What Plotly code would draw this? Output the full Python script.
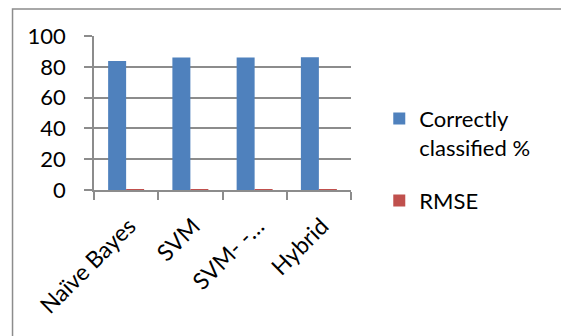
import plotly.graph_objects as go

# Classifier comparison data
classifiers = ["Naïve Bayes", "SVM", "SVM- -…", "Hybrid"]
correctly_classified = [83.8, 86.1, 86.1, 86.2]
rmse = [0.34, 0.37, 0.37, 0.36]
y_ticks = [0, 20, 40, 60, 80, 100]

FONT = "Lato, Calibri, Carlito, sans-serif"
GRID = "#8c8c8c"

fig = go.Figure()
fig.add_trace(go.Bar(
    x=classifiers, y=correctly_classified,
    name="Correctly<br>classified %",
    marker=dict(color="#4F81BD", line=dict(width=0)),
    legendgroup="a",
))
fig.add_trace(go.Bar(
    x=classifiers, y=rmse,
    name="RMSE",
    marker=dict(color="#C0504D", line=dict(width=0)),
    legendgroup="b",
))

fig.update_layout(
    width=561, height=336,
    margin=dict(l=94, r=210, t=36, b=146, autoexpand=False),
    paper_bgcolor="white", plot_bgcolor="white",
    barmode="group", bargap=0.44, bargroupgap=0,
    font=dict(family=FONT, size=22, color="black"),
    showlegend=True,
    legend=dict(
        x=1.11, xanchor="left", y=0.6, yanchor="top",
        traceorder="grouped", tracegroupgap=22,
        font=dict(family=FONT, size=22, color="black"),
        valign="top", itemwidth=30,
        bgcolor="rgba(0,0,0,0)",
    ),
    xaxis=dict(
        type="category", tickangle=-45, tickson="boundaries",
        ticks="outside", ticklen=8, tickcolor=GRID, tickwidth=1.5,
        showline=True, linecolor=GRID, linewidth=1.5,
        showgrid=False, tickfont=dict(family=FONT, size=23),
        ticklabelshift=3, ticklabelstandoff=12,
    ),
    yaxis=dict(
        range=[0, 100], tickvals=y_ticks,
        ticks="outside", ticklen=8, tickcolor=GRID, tickwidth=1.5,
        showline=True, linecolor=GRID, linewidth=1.5,
        showgrid=True, gridcolor=GRID, gridwidth=1.5,
        zeroline=False, tickfont=dict(family=FONT, size=22),
        ticklabelstandoff=14,
    ),
    shapes=[dict(
        type="rect", xref="paper", yref="paper",
        x0=-0.317, x1=2.0, y0=-2.0, y1=1.175,
        line=dict(color="#8c8c8c", width=1.5), fillcolor="rgba(0,0,0,0)",
        layer="below",
    )],
)

fig.write_html("out.html")
